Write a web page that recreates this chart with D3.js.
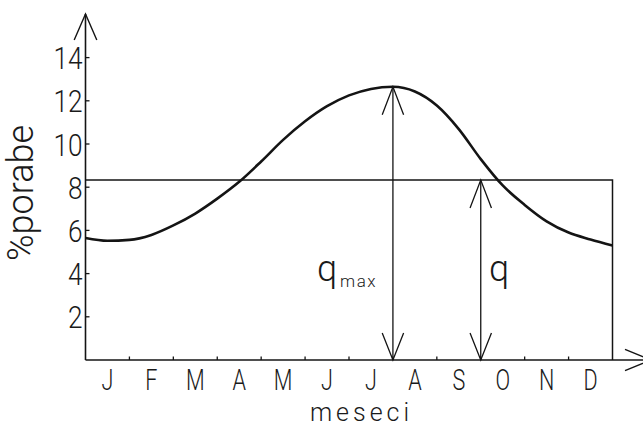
<!DOCTYPE html>
<html>
<head>
<meta charset="utf-8">
<script src="https://cdn.jsdelivr.net/npm/d3@7"></script>
<style>
  html, body { margin: 0; padding: 0; background: #fff; }
  svg { display: block; overflow: hidden; }
  text { font-family: Roboto, "DejaVu Sans", sans-serif; font-weight: 300; fill: #1a1a1a; }
</style>
</head>
<body>
<svg id="chart" width="643" height="428"></svg>
<script>
// Month initials along the horizontal axis (one per month interval)
const monthLabels = ["J", "F", "M", "A", "M", "J", "J", "A", "S", "O", "N", "D"];
// Vertical axis ticks (% of annual consumption)
const yTicks = [2, 4, 6, 8, 10, 12, 14];
// Consumption curve: position in months from the start of January, and value in %
const curveMonth = [0, 0.5, 1, 1.5, 2, 2.5, 3, 3.5, 4, 4.5, 5, 5.5, 6, 6.5, 7, 7.5, 8, 8.5, 9, 9.5, 10, 10.5, 11, 11.5, 12];
const curveValue = [5.65, 5.52, 5.56, 5.79, 6.23, 6.78, 7.47, 8.25, 9.19, 10.19, 11.05, 11.75, 12.25, 12.55, 12.65, 12.43, 11.78, 10.69, 9.3, 8.08, 7.18, 6.42, 5.9, 5.58, 5.3];
// Average level and the months where the two spans are measured
const averageLevel = 8.33;
const peakMonth = 7, peakValue = 12.65;
const qMonth = 9;

const svg = d3.select("#chart");
const x = d3.scaleLinear().domain([0, 12]).range([85.5, 612.5]);
const y = d3.scaleLinear().domain([0, 14]).range([360, 57.6]);

const ink = "#141414";

// Open "V" arrowhead pointing in direction (dx, dy) with tip at (tx, ty)
function arrowHead(g, tx, ty, dx, dy, len, half, width) {
  const px = -dy, py = dx;
  const bx = tx - dx * len, by = ty - dy * len;
  g.append("path")
    .attr("d", `M${bx + px * half},${by + py * half}L${tx},${ty}L${bx - px * half},${by - py * half}`)
    .attr("fill", "none").attr("stroke", ink).attr("stroke-width", width)
    .attr("stroke-linejoin", "miter");
}

const axes = svg.append("g");
// vertical axis with arrow
axes.append("line").attr("x1", x(0)).attr("x2", x(0)).attr("y1", y(0)).attr("y2", 14)
  .attr("stroke", ink).attr("stroke-width", 1.6);
arrowHead(axes, x(0), 14, 0, -1, 26, 11.3, 1.4);
// horizontal axis with arrow running off to the right
axes.append("line").attr("x1", x(0)).attr("x2", 660).attr("y1", y(0)).attr("y2", y(0))
  .attr("stroke", ink).attr("stroke-width", 1.6);
arrowHead(axes, 651, y(0), 1, 0, 26, 10.7, 1.4);

// y ticks and labels
const yt = axes.selectAll("g.yt").data(yTicks).join("g").attr("class", "yt");
yt.append("line").attr("x1", x(0)).attr("x2", x(0) + 4).attr("y1", d => y(d)).attr("y2", d => y(d))
  .attr("stroke", ink).attr("stroke-width", 1.3);
yt.append("text")
  .attr("transform", d => `translate(${x(0) - 3},${y(d) + 11.5}) scale(0.82,1)`)
  .attr("text-anchor", "end").attr("font-size", 32)
  .text(d => d);

// month ticks (boundaries) and month labels (interval centres)
axes.selectAll("line.mt").data(d3.range(1, 12)).join("line").attr("class", "mt")
  .attr("x1", d => x(d)).attr("x2", d => x(d)).attr("y1", y(0)).attr("y2", y(0) - 3.5)
  .attr("stroke", ink).attr("stroke-width", 1.3);
axes.selectAll("text.ml").data(monthLabels).join("text").attr("class", "ml")
  .attr("transform", (d, i) => `translate(${x(i + 0.5)},390) scale(0.72,1)`)
  .attr("text-anchor", "middle").attr("font-size", 30)
  .text(d => d);

// axis titles
svg.append("text").attr("x", 361.5).attr("y", 421)
  .attr("text-anchor", "middle").attr("font-size", 25).attr("letter-spacing", 4)
  .text("meseci");
svg.append("text")
  .attr("transform", "translate(33,193) rotate(-90)")
  .attr("text-anchor", "middle").attr("font-size", 36)
  .text("%porabe");

// average level line and closing right edge
svg.append("path")
  .attr("d", `M${x(0)},${y(averageLevel)}H${x(12)}V${y(0)}`)
  .attr("fill", "none").attr("stroke", ink).attr("stroke-width", 1.5);

// consumption curve
const line = d3.line().x((d, i) => x(curveMonth[i])).y(d => y(d)).curve(d3.curveMonotoneX);
svg.append("path").datum(curveValue).attr("d", line)
  .attr("fill", "none").attr("stroke", ink).attr("stroke-width", 2.6);

// double arrows for q_max and q
function span(month, top) {
  const g = svg.append("g");
  const xx = x(month);
  g.append("line").attr("x1", xx).attr("x2", xx).attr("y1", y(top)).attr("y2", y(0))
    .attr("stroke", ink).attr("stroke-width", 1.3);
  arrowHead(g, xx, y(top), 0, -1, 28, 10.7, 1.3);
  arrowHead(g, xx, y(0), 0, 1, 27, 10.7, 1.3);
}
span(peakMonth, peakValue);
span(qMonth, averageLevel);

// labels for the spans
const qmax = svg.append("text").attr("x", 317).attr("y", 281).attr("font-size", 36);
qmax.append("tspan").text("q");
qmax.append("tspan").attr("font-size", 17).attr("dx", 3).attr("dy", 6).attr("letter-spacing", 1.5).text("max");
svg.append("text").attr("x", 489).attr("y", 281).attr("font-size", 36).text("q");
</script>
</body>
</html>
